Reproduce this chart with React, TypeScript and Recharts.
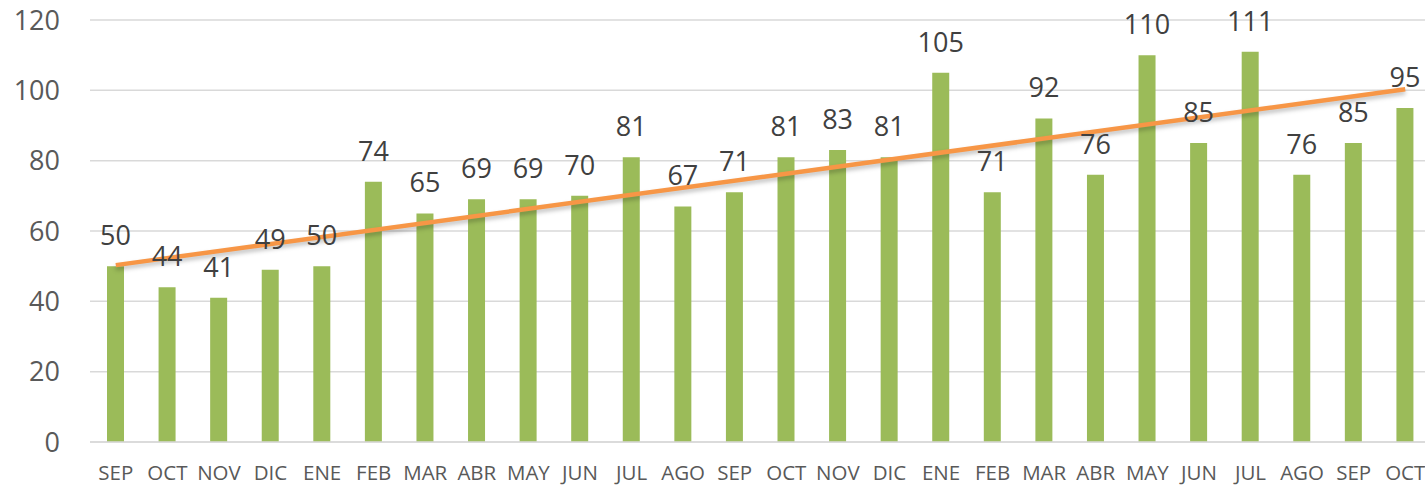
import React from "react";
import { ComposedChart, Bar, Line, XAxis, YAxis, CartesianGrid, LabelList } from "recharts";

const categories = ["SEP","OCT","NOV","DIC","ENE","FEB","MAR","ABR","MAY","JUN","JUL","AGO","SEP","OCT","NOV","DIC","ENE","FEB","MAR","ABR","MAY","JUN","JUL","AGO","SEP","OCT"];
const values = [50,44,41,49,50,74,65,69,69,70,81,67,71,81,83,81,105,71,92,76,110,85,111,76,85,95];
const trendStart = 50.3;
const trendEnd = 100.3;
const yTicks = [0,20,40,60,80,100,120];

const data = categories.map((c, i) => ({
  idx: i,
  cat: c,
  value: values[i],
  trend: i === 0 ? trendStart : i === categories.length - 1 ? trendEnd : null,
}));

const FONT = "'Open Sans', sans-serif";

export default function App() {
  return (
    <div style={{ position: "absolute", left: 0, top: 0, width: 1425, height: 486, overflow: "hidden", background: "#fff" }}>
      <ComposedChart width={1431} height={486} data={data} margin={{ top: 20, right: 0, bottom: 0, left: 0 }} barCategoryGap={0}>
        <CartesianGrid vertical={false} stroke="#D9D9D9" strokeWidth={1.5} />
        <XAxis
          dataKey="idx"
          tickFormatter={(i: number) => categories[i]}
          interval={0}
          height={44}
          tickLine={false}
          tickSize={0}
          tickMargin={23}
          axisLine={{ stroke: "#D9D9D9", strokeWidth: 1.5 }}
          tick={{ fill: "#595959", fontSize: 20.5, fontFamily: FONT }}
        />
        <YAxis
          domain={[0, 120]}
          ticks={yTicks}
          width={90}
          axisLine={false}
          tickLine={false}
          tickSize={0}
          tickMargin={30}
          tick={{ fill: "#595959", fontSize: 27, fontFamily: FONT }}
        />
        <Bar dataKey="value" fill="#9BBB59" barSize={17} isAnimationActive={false}>
          <LabelList dataKey="value" position="top" offset={21} fill="#404040" fontSize={27} fontFamily={FONT} />
        </Bar>
        <Line
          dataKey="trend"
          connectNulls
          stroke="#F79646"
          strokeWidth={4.5}
          dot={false}
          activeDot={false}
          isAnimationActive={false}
          style={{ filter: "drop-shadow(0px 3px 2px rgba(0,0,0,0.25))" }}
        />
      </ComposedChart>
    </div>
  );
}
